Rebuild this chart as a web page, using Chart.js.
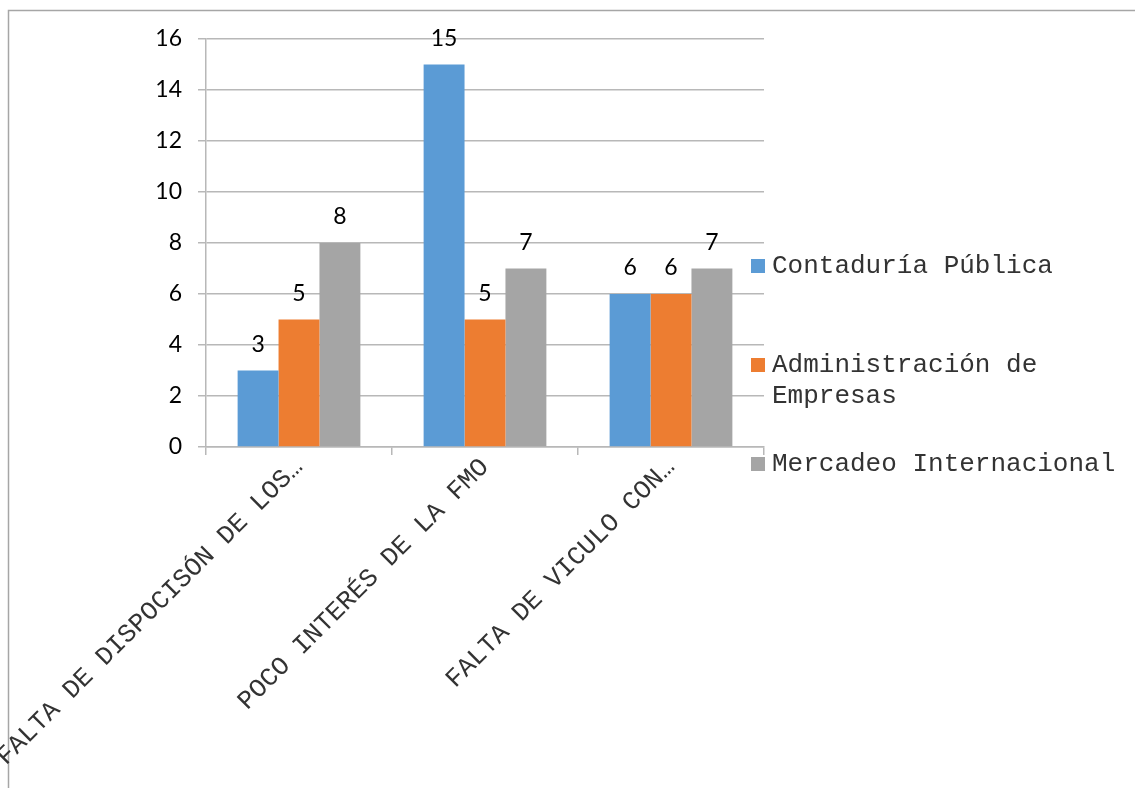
<!DOCTYPE html>
<html><head><meta charset="utf-8">
<script src="https://cdn.jsdelivr.net/npm/chart.js@4.4.1/dist/chart.umd.min.js"></script>
<style>html,body{margin:0;padding:0;background:#fff;}#wrap{position:relative;width:1135px;height:788px;}</style>
</head><body><div id="wrap"><canvas id="c" width="1135" height="788"></canvas></div>
<script>
const categories = ["FALTA DE DISPOCISÓN DE LOS…", "POCO INTERÉS DE LA FMO", "FALTA DE VICULO CON…"];
const seriesNames = ["Contaduría Pública", "Administración de Empresas", "Mercadeo Internacional"];
const contaduria = [3, 15, 6];
const administracion = [5, 5, 6];
const mercadeo = [8, 7, 7];
const yTicks = [0, 2, 4, 6, 8, 10, 12, 14, 16];
const colors = ["#5b9bd5", "#ed7d31", "#a5a5a5"];

const MONO = "'Liberation Mono', monospace";
const SANS = "Lato, 'Open Sans', sans-serif";

const frame = {
  id: 'frame',
  beforeDraw(chart) {
    const ctx = chart.ctx;
    ctx.save();
    ctx.strokeStyle = '#a6a6a6';
    ctx.lineWidth = 1.5;
    ctx.beginPath();
    ctx.moveTo(8.5, 788);
    ctx.lineTo(8.5, 10.5);
    ctx.lineTo(1135, 10.5);
    ctx.stroke();
    ctx.restore();
  }
};

const dataLabels = {
  id: 'dataLabels',
  afterDatasetsDraw(chart) {
    const ctx = chart.ctx;
    ctx.save();
    ctx.font = "23px " + SANS;
    ctx.fillStyle = '#000';
    ctx.textAlign = 'center';
    ctx.textBaseline = 'alphabetic';
    chart.data.datasets.forEach((ds, i) => {
      chart.getDatasetMeta(i).data.forEach((bar, j) => {
        ctx.fillText(String(ds.data[j]), bar.x, bar.y - 19);
      });
    });
    ctx.restore();
  }
};

const legendPlug = {
  id: 'customLegend',
  afterDraw(chart) {
    const ctx = chart.ctx;
    ctx.save();
    ctx.font = "26px " + MONO;
    ctx.textBaseline = 'middle';
    const entries = [
      {lines: [seriesNames[0]], y: 266},
      {lines: ["Administración de", "Empresas"], y: 365},
      {lines: [seriesNames[2]], y: 464}
    ];
    entries.forEach((e, i) => {
      ctx.fillStyle = colors[i];
      ctx.fillRect(751, e.y - 7, 14, 14);
      ctx.fillStyle = '#333';
      e.lines.forEach((l, k) => ctx.fillText(l, 772, e.y + k * 31));
    });
    ctx.restore();
  }
};

new Chart(document.getElementById('c'), {
  type: 'bar',
  data: {
    labels: categories,
    datasets: [
      {label: seriesNames[0], data: contaduria, backgroundColor: colors[0]},
      {label: seriesNames[1], data: administracion, backgroundColor: colors[1]},
      {label: seriesNames[2], data: mercadeo, backgroundColor: colors[2]}
    ]
  },
  options: {
    responsive: false,
    animation: false,
    devicePixelRatio: 1,
    layout: {padding: {top: 39, right: 371, left: 0, bottom: 0}},
    datasets: {bar: {categoryPercentage: 0.66, barPercentage: 1.0}},
    plugins: {legend: {display: false}, tooltip: {enabled: false}},
    scales: {
      y: {
        min: 0, max: 16,
        afterFit(s) { s.width = 206; s.paddingTop = 0; s.paddingBottom = 0; },
        afterBuildTicks(s) { s.ticks = yTicks.map(v => ({value: v})); },
        ticks: {font: {family: SANS, size: 23}, color: '#000', padding: 16},
        grid: {color: '#b8b8b8', lineWidth: 1.5, tickLength: 8},
        border: {color: '#b8b8b8', width: 1.5}
      },
      x: {
        afterFit(s) { s.height = 341; s.paddingLeft = 0; s.paddingRight = 0; },
        ticks: {font: {family: MONO, size: 26}, color: '#333', minRotation: 45, maxRotation: 45, padding: -3, autoSkip: false},
        grid: {drawOnChartArea: false, offset: true, color: '#b8b8b8', lineWidth: 1.5, tickLength: 8},
        border: {color: '#b8b8b8', width: 1.5}
      }
    }
  },
  plugins: [frame, dataLabels, legendPlug]
});
</script>
</body></html>
